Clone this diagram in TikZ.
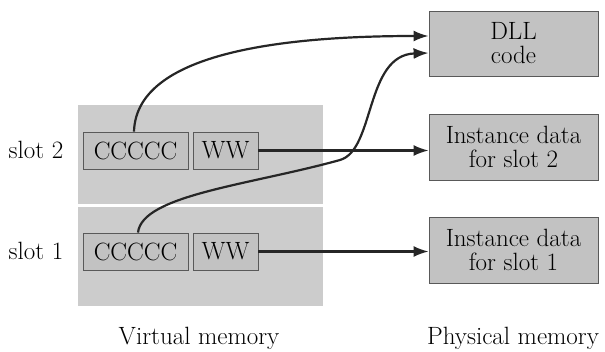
\documentclass[tikz,border=0pt]{standalone}
\usepackage{fontspec}
\usetikzlibrary{arrows.meta,calc}
\definecolor{slotbg}{gray}{0.80}
\definecolor{boxbg}{gray}{0.76}
\definecolor{edge}{gray}{0.35}
\tikzset{
  txt/.style={font=\fontsize{25}{25}\selectfont, inner sep=0pt},
  slotarea/.style={fill=slotbg, draw=none},
  vbox/.style={fill=boxbg, draw=edge, line width=0.8pt},
  pbox/.style={fill=boxbg, draw=edge, line width=0.8pt, align=center, inner sep=0pt, font=\fontsize{25}{24}\selectfont},
  link/.style={line width=2.2pt, draw=black!85, -{Latex[length=15pt,width=11pt]}}
}
\begin{document}
\begin{tikzpicture}[x=1pt,y=-1pt]
\useasboundingbox (0,0) rectangle (605,352);
\fill[white] (0,0) rectangle (605,352);
% slot areas
\path[slotarea] (78,105) rectangle (323,204);
\path[slotarea] (78,207) rectangle (323,306);
% virtual boxes
\node[vbox, txt, minimum width=105pt, minimum height=37pt] (cc2) at (135.5,150.5) {CCCCC};
\node[vbox, txt, minimum width=65pt, minimum height=37pt] (ww2) at (225.5,150.5) {WW};
\node[vbox, txt, minimum width=105pt, minimum height=37pt] (cc1) at (135.5,251.5) {CCCCC};
\node[vbox, txt, minimum width=65pt, minimum height=37pt] (ww1) at (225.5,251.5) {WW};
% labels
\node[txt] (l2) at (36,150) {slot 2};
\node[txt] (l1) at (36,251) {slot 1};
% physical boxes
\node[pbox, minimum width=169pt, minimum height=65pt] (dll) at (513.5,43.5) {DLL\\code};
\node[pbox, minimum width=169pt, minimum height=66pt] (i2) at (513.5,147) {Instance data\\for slot 2};
\node[pbox, minimum width=169pt, minimum height=66pt] (i1) at (513.5,250) {Instance data\\for slot 1};
% captions
\node[txt, anchor=base] (vm) at (199,345) {Virtual memory};
\node[txt, anchor=base] (pm) at (513,345) {Physical memory};
% connectors
\coordinate (d1) at ($(dll.west)+(0,-7.5)$);
\coordinate (d2) at ($(dll.west)+(0,9.5)$);
\coordinate (s2) at ($(cc2.north)+(-1.5,0)$);
\coordinate (s1) at ($(cc1.north)+(2.5,0)$);
\coordinate (mid) at (340,160);
\draw[link] (s2) .. controls (136,62) and (250,36) .. (d1);
\draw[link] (s1) .. controls (142,195) and (250,185) .. (mid) .. controls (375,150) and (365,55) .. (d2);
\draw[link] (ww2.east) -- (i2.west |- ww2.east);
\draw[link] (ww1.east) -- (i1.west |- ww1.east);
\end{tikzpicture}
\end{document}
